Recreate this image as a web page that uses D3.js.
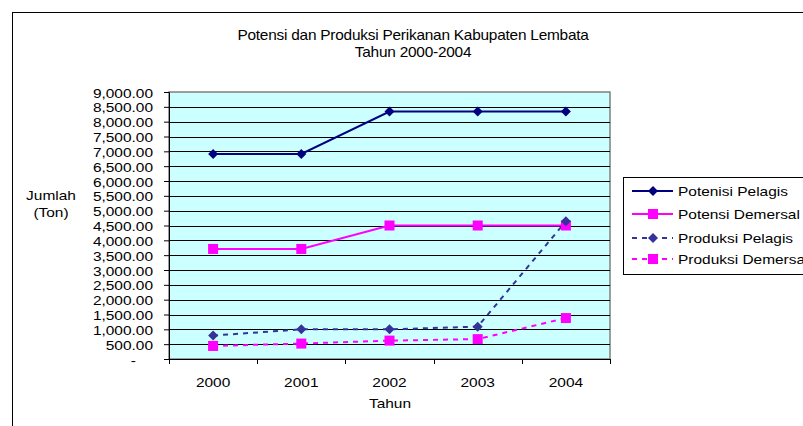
<!DOCTYPE html>
<html>
<head>
<meta charset="utf-8">
<script src="https://cdn.jsdelivr.net/npm/d3@7"></script>
<style>
  html, body { margin: 0; padding: 0; background: #fff; }
  svg { display: block; font-family: "Liberation Sans", Arial, sans-serif; }
</style>
</head>
<body>
<svg id="chart" width="803" height="426"></svg>
<script>
// Fisheries potential and production, Kabupaten Lembata (tons)
const years = ["2000", "2001", "2002", "2003", "2004"];
const potensiPelagis   = [6910, 6910, 8340, 8340, 8340];
const potensiDemersal  = [3710, 3710, 4500, 4500, 4500];
const produksiPelagis  = [790, 1000, 1000, 1090, 4640];
const produksiDemersal = [440, 520, 620, 670, 1380];
const yTicks = d3.range(0, 9001, 500);

const series = [
  { name: "Potenisi Pelagis",  values: potensiPelagis,   color: "#000080", marker: "diamond", dashed: false },
  { name: "Potensi Demersal",  values: potensiDemersal,  color: "#FF00FF", marker: "square",  dashed: false },
  { name: "Produksi Pelagis",  values: produksiPelagis,  color: "#333399", marker: "diamond", dashed: true },
  { name: "Produksi Demersal", values: produksiDemersal, color: "#FF00FF", marker: "square",  dashed: true }
];

const svg = d3.select("#chart");
const plot = { left: 169, right: 610, top: 92, bottom: 359 };
const SX = 1.19;   // wide text rendering

// text helper: a horizontally widened label anchored at (x, y)
function label(parent, x, y, str, opts = {}) {
  const size = opts.size || 13, sx = opts.sx || SX;
  return parent.append("text")
    .attr("transform", `translate(${x},${y}) scale(${sx},1)`)
    .attr("text-anchor", opts.anchor || "start")
    .attr("font-size", size)
    .attr("fill", "#000")
    .text(str);
}

// chart frame (extends past the right and bottom edges)
svg.append("rect")
  .attr("x", 12.5).attr("y", 12.5)
  .attr("width", 900).attr("height", 500)
  .attr("fill", "#fff").attr("stroke", "#000").attr("stroke-width", 1);

// title
label(svg, 413, 40, "Potensi dan Produksi Perikanan Kabupaten Lembata", { anchor: "middle", size: 14, sx: 1.1 })
  .attr("letter-spacing", -0.2);
label(svg, 413, 57, "Tahun 2000-2004", { anchor: "middle", size: 14, sx: 1.1 })
  .attr("letter-spacing", -0.2);

const x = d3.scaleBand().domain(years).range([plot.left, plot.right]);
const y = d3.scaleLinear().domain([0, 9000]).range([plot.bottom, plot.top]);

// plot area
svg.append("rect")
  .attr("x", plot.left).attr("y", plot.top)
  .attr("width", plot.right - plot.left).attr("height", plot.bottom - plot.top)
  .attr("fill", "#CCFFFF").attr("stroke", "#808080").attr("stroke-width", 1.5);

// gridlines
svg.append("g").selectAll("line").data(yTicks.filter(d => d > 0 && d < 9000)).join("line")
  .attr("x1", plot.left).attr("x2", plot.right)
  .attr("y1", d => Math.round(y(d)) + 0.5).attr("y2", d => Math.round(y(d)) + 0.5)
  .attr("stroke", "#000").attr("stroke-width", 1);

// y axis
const fmt = d3.format(",.2f");
const yAxis = svg.append("g").attr("transform", `translate(${plot.left},0)`)
  .call(d3.axisLeft(y).tickValues(yTicks).tickSize(5).tickFormat(() => ""));
yAxis.select(".domain").attr("stroke", "#000");
yAxis.selectAll(".tick line").attr("stroke", "#000");
yAxis.selectAll(".tick").each(function (d) {
  const t = label(d3.select(this), d === 0 ? -33 : -16, 5, d === 0 ? "-" : fmt(d), { anchor: "end" });
  t.attr("font-family", "Liberation Sans, Arial, sans-serif");
});

// x axis with ticks at category boundaries
const xAxisG = svg.append("g").attr("transform", `translate(0,${plot.bottom})`);
xAxisG.append("line").attr("x1", plot.left).attr("x2", plot.right)
  .attr("y1", 0.5).attr("y2", 0.5).attr("stroke", "#000");
const bounds = years.map(d => x(d)).concat([x(years[years.length - 1]) + x.bandwidth()]);
xAxisG.selectAll("line.tk").data(bounds).join("line").attr("class", "tk")
  .attr("x1", d => Math.round(d) + 0.5).attr("x2", d => Math.round(d) + 0.5)
  .attr("y1", 0).attr("y2", 5).attr("stroke", "#000");
years.forEach(d => label(xAxisG, x(d) + x.bandwidth() / 2, 28, d, { anchor: "middle" }));

// axis titles
label(svg, 390, 408, "Tahun", { anchor: "middle" });
label(svg, 51, 200, "Jumlah", { anchor: "middle" });
label(svg, 51, 217, "(Ton)", { anchor: "middle" });

// markers
function drawMarker(g, type, color, cx, cy) {
  if (type === "square") {
    g.append("rect").attr("x", cx - 5).attr("y", cy - 5).attr("width", 10).attr("height", 10).attr("fill", color);
  } else {
    g.append("path").attr("d", d3.symbol().type(d3.symbolSquare).size(50)())
      .attr("transform", `translate(${cx},${cy}) rotate(45)`).attr("fill", color);
  }
}

const line = d3.line().x((d, i) => x(years[i]) + x.bandwidth() / 2).y(d => y(d));
const linesG = svg.append("g");
series.forEach(s => {
  linesG.append("path").attr("d", line(s.values))
    .attr("fill", "none").attr("stroke", s.color).attr("stroke-width", 2)
    .attr("stroke-dasharray", s.dashed ? "5,5" : null);
});
series.forEach(s => {
  const g = linesG.append("g");
  s.values.forEach((v, i) => drawMarker(g, s.marker, s.color, x(years[i]) + x.bandwidth() / 2, y(v)));
});

// legend
const lg = svg.append("g");
lg.append("rect").attr("x", 623.5).attr("y", 177.5).attr("width", 200).attr("height", 97)
  .attr("fill", "#fff").attr("stroke", "#000").attr("stroke-width", 1);
const legendY = [191, 214, 238, 259];
series.forEach((s, i) => {
  const ly = legendY[i];
  lg.append("line").attr("x1", 632).attr("x2", 673).attr("y1", ly).attr("y2", ly)
    .attr("stroke", s.color).attr("stroke-width", 2).attr("stroke-dasharray", s.dashed ? "5,5" : null);
  drawMarker(lg, s.marker, s.color, 653, ly);
  label(lg, 678, ly + 5, s.name);
});
</script>
</body>
</html>
